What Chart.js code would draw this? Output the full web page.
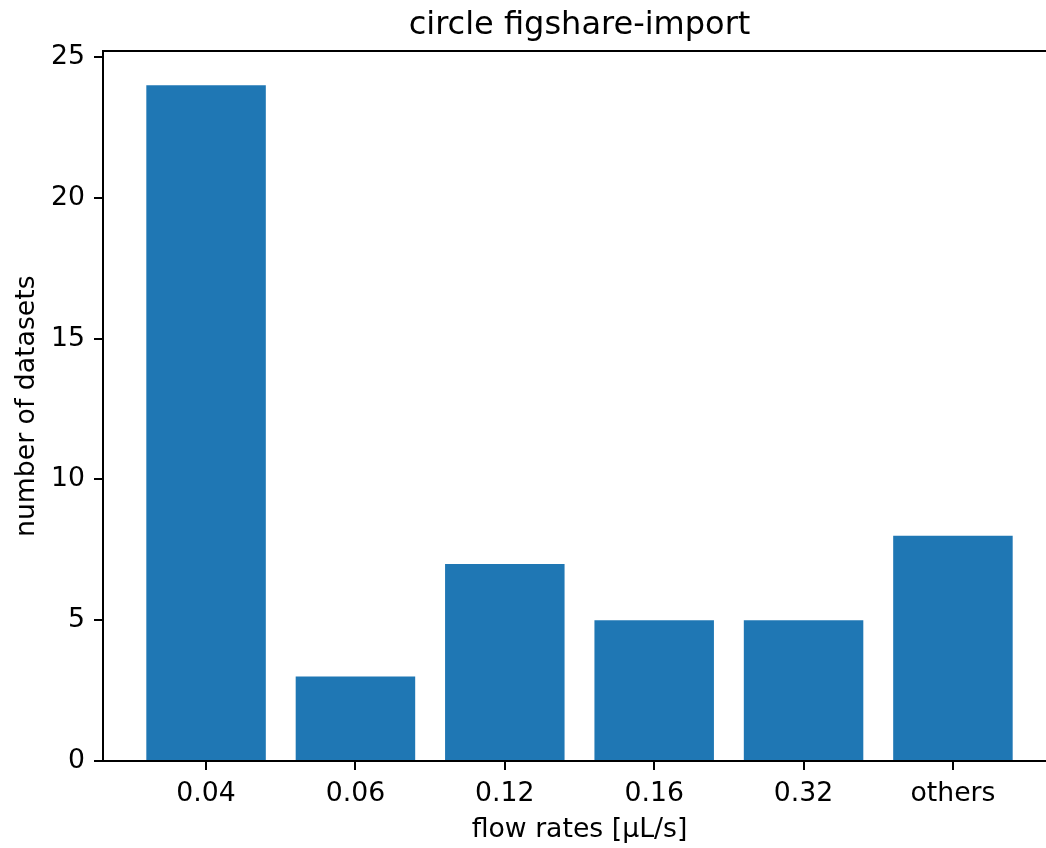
<!DOCTYPE html>
<html>
<head>
<meta charset="utf-8">
<script src="https://cdn.jsdelivr.net/npm/chart.js@4/dist/chart.umd.min.js"></script>
<style>
  html, body { margin: 0; padding: 0; overflow: hidden; background: #fff; }
  #wrap { width: 1058px; height: 848px; }
</style>
</head>
<body>
<div id="wrap"><canvas id="myChart" width="1058" height="848"></canvas></div>
<script>
// values
const flowLabels = ["0.04", "0.06", "0.12", "0.16", "0.32", "others"];
const datasetCounts = [24, 3, 7, 5, 5, 8];
const yTicks = [0, 5, 10, 15, 20, 25];

const fontFamily = "'DejaVu Sans', sans-serif";
const tickFont = { family: fontFamily, size: 26.7 };

// right spine (top one comes from the title axis border)
const boxPlugin = {
	id: 'box',
	afterDraw(chart) {
		const a = chart.chartArea;
		const ctx = chart.ctx;
		ctx.save();
		ctx.strokeStyle = '#000';
		ctx.lineWidth = 2;
		ctx.beginPath();
		ctx.moveTo(a.right, a.top);
		ctx.lineTo(a.right, a.bottom);
		ctx.stroke();
		ctx.restore();
	}
};

let points = flowLabels.map((lab, i) => ({ x: i, y: datasetCounts[i] }));

new Chart(document.getElementById("myChart").getContext('2d'), {
	type: 'bar',
	data: {
		datasets: [{
			data: points,
			backgroundColor: '#1f77b4',
			borderWidth: 0,
			categoryPercentage: 1,
			barPercentage: 0.8
		}]
	},
	options: {
		responsive: false,
		animation: false,
		devicePixelRatio: 1,
		layout: { padding: { left: 0, right: 2, top: 0, bottom: 0 } },
		plugins: {
			legend: { display: false },
			tooltip: { enabled: false },
			title: { display: false }
		},
		scales: {
			x: {
				type: 'linear',
				min: -0.69,
				max: 5.69,
				offset: false,
				afterBuildTicks: axis => { axis.ticks = flowLabels.map((l, i) => ({ value: i })); },
				afterFit: scale => { scale.height = 87; },
				ticks: {
					color: '#000',
					font: tickFont,
					padding: 8,
					maxRotation: 0,
					autoSkip: false,
					callback: v => flowLabels[v]
				},
				grid: {
					offset: false,
					drawOnChartArea: false,
					drawTicks: true,
					tickLength: 9,
					color: '#000',
					lineWidth: 2
				},
				border: { display: true, color: '#000', width: 2 },
				title: {
					display: true,
					text: 'flow rates [µL/s]',
					color: '#000',
					font: { family: fontFamily, size: 26.7 },
					padding: { top: 2, bottom: 2 }
				}
			},
			// top axis only carries the chart title and the top spine
			top: {
				type: 'linear',
				position: 'top',
				min: 0,
				max: 1,
				afterFit: scale => { scale.height = 51.4; },
				ticks: { display: false },
				grid: { display: false, drawTicks: false },
				border: { display: true, color: '#000', width: 2 },
				title: {
					display: true,
					text: 'circle figshare-import',
					color: '#000',
					font: { family: fontFamily, size: 32 },
					padding: { top: 6, bottom: 6 }
				}
			},
			y: {
				min: 0,
				max: 25.2,
				afterBuildTicks: axis => { axis.ticks = yTicks.map(v => ({ value: v })); },
				afterFit: scale => { scale.width = 103; },
				ticks: {
					color: '#000',
					font: tickFont,
					padding: 9
				},
				grid: {
					drawOnChartArea: false,
					drawTicks: true,
					tickLength: 9,
					color: '#000',
					lineWidth: 2
				},
				border: { display: true, color: '#000', width: 2 },
				title: {
					display: true,
					text: 'number of datasets',
					color: '#000',
					font: { family: fontFamily, size: 26.7 },
					padding: { top: 11, bottom: 11 }
				}
			}
		}
	},
	plugins: [boxPlugin]
});
</script>
</body>
</html>
